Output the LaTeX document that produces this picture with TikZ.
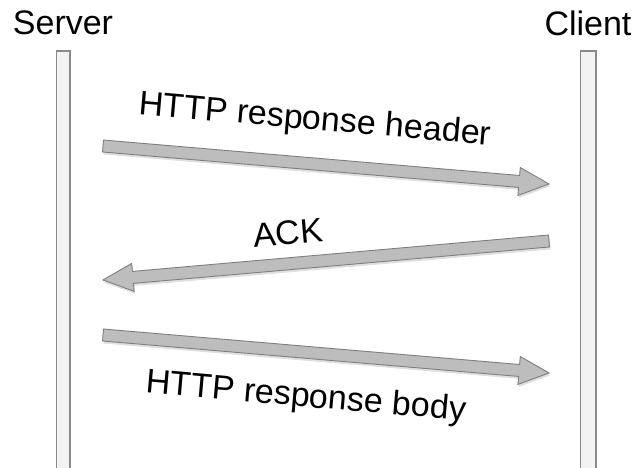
\documentclass[tikz,border=0pt]{standalone}
\usepackage{fontspec}
\setmainfont{Liberation Sans}
\usetikzlibrary{calc,shadows}
\definecolor{barfill}{HTML}{F3F3F3}
\definecolor{barline}{HTML}{8A8A8A}
\definecolor{arrfill}{HTML}{BDBDBD}
\definecolor{arrline}{HTML}{7E7E7E}
\tikzset{
  lifebar/.style={draw=barline, fill=barfill, line width=1.2pt},
  actor/.style={font=\fontsize{34}{37}\selectfont, inner sep=0pt},
  msglabel/.style={font=\fontsize{34}{37}\selectfont, inner sep=0pt},
  fatarrow/.style={draw=arrline, fill=arrfill, line width=0.9pt, line join=miter,
    drop shadow={opacity=0.25, shadow xshift=1pt, shadow yshift=-2.5pt}},
}
\newcommand{\blockarrow}[2]{%
  \coordinate (hb) at ($(#2)!30pt!(#1)$);
  \path[fatarrow]
    ($(#1)!6pt!90:(#2)$) -- ($(hb)!6pt!-90:(#1)$) -- ($(hb)!14pt!-90:(#1)$) --
    (#2) -- ($(hb)!14pt!90:(#1)$) -- ($(hb)!6pt!90:(#1)$) --
    ($(#1)!6pt!-90:(#2)$) -- cycle;
}
\begin{document}
\begin{tikzpicture}[x=1pt,y=-1pt]
\useasboundingbox (0,0) rectangle (635,468);
\begin{scope}
\clip (0,0) rectangle (635,468);
\draw[lifebar] (56.5,51) rectangle (70,480);
\draw[lifebar] (580.5,51) rectangle (596,480);
\end{scope}
\node[actor] (server) at (63,23) {Server};
\node[actor] (client) at (588,23) {Client};

\coordinate (a1s) at (103,146);
\coordinate (a1e) at (549,184);
\coordinate (a2s) at (549,241);
\coordinate (a2e) at (103,280);
\coordinate (a3s) at (103,335);
\coordinate (a3e) at (549,373);

\blockarrow{a1s}{a1e}
\blockarrow{a2s}{a2e}
\blockarrow{a3s}{a3e}

\node[msglabel, rotate=-5] (hdr) at (315,121) {HTTP response header};
\node[msglabel, rotate=5] (ack) at (288,233) {ACK};
\node[msglabel, rotate=-5] (body) at (306,398) {HTTP response body};
\end{tikzpicture}
\end{document}
